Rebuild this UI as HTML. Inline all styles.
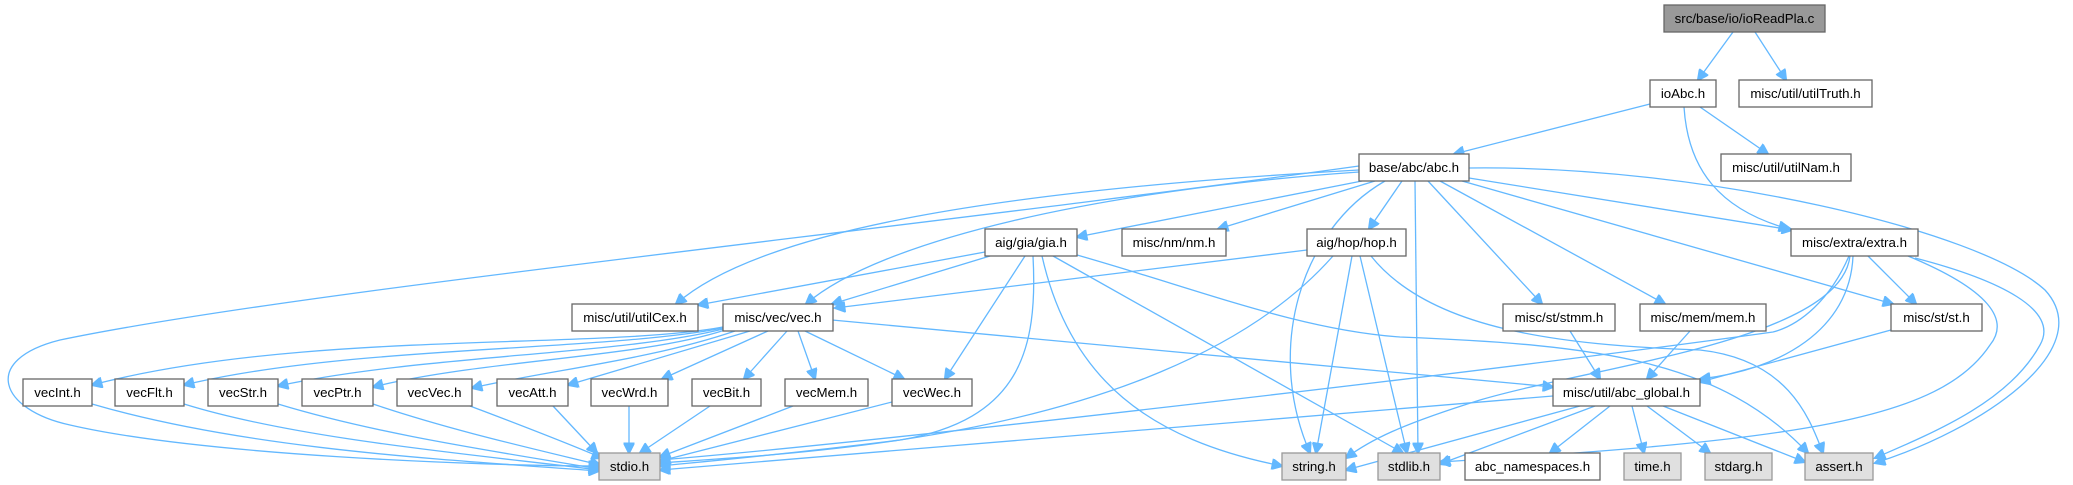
<!DOCTYPE html>
<html><head><meta charset="utf-8"><style>
html,body{margin:0;padding:0;background:#fff;}
svg{display:block;}
text{font-family:"Liberation Sans",Arial,sans-serif;font-size:13.3px;fill:#000;text-anchor:middle;}
.n{fill:#fff;stroke:#666;stroke-width:1.3;}
.g{fill:#e0e0e0;stroke:#999;stroke-width:1.3;}
.s{fill:#999;stroke:#666;stroke-width:1.3;}
path{fill:none;stroke:#63b8ff;stroke-width:1.3;marker-end:url(#a);}
</style></head><body>
<svg width="2073" height="485" viewBox="0 0 2073 485" xmlns="http://www.w3.org/2000/svg">
<defs><marker id="a" viewBox="0 0 10 10" refX="9" refY="5" markerWidth="13" markerHeight="11" markerUnits="userSpaceOnUse" orient="auto"><path d="M0,0 L10,5 L0,10 z" style="fill:#63b8ff;stroke:#63b8ff;stroke-width:1;marker-end:none"/></marker></defs>

<path d="M1733,32 L1698,80"/>
<path d="M1755,32 L1786,80"/>
<path d="M1650,104 L1454,154"/>
<path d="M1700,107 L1768,154"/>
<path d="M1684,107 C1688,170 1720,210 1789,229"/>
<path d="M1469,178 L1792,230"/>
<path d="M1462,181 L1893,304"/>
<path d="M1469,168 C1700,165 1980,230 2045,290 C2100,350 1980,430 1875,463"/>
<path d="M1428,181 L1542,304"/>
<path d="M1440,181 L1665,304"/>
<path d="M1415,181 L1418,453"/>
<path d="M1385,181 C1300,230 1265,350 1310,453"/>
<path d="M1402,181 L1369,229"/>
<path d="M1375,181 L1218,229"/>
<path d="M1362,181 L1077,237"/>
<path d="M1359,172 C1100,190 880,240 806,304"/>
<path d="M1359,170 C1000,190 760,230 676,304"/>
<path d="M1359,166 C900,230 300,290 60,340 C-20,360 0,410 70,425 C200,455 480,466 599,466"/>

<path d="M985,252 L698,305"/>
<path d="M990,256 L832,304"/>
<path d="M1025,256 L945,379"/>
<path d="M1033,256 C1038,350 1020,420 900,440 C800,455 700,460 660,463"/>
<path d="M1042,256 C1070,380 1150,440 1282,466"/>
<path d="M1053,256 L1403,453"/>
<path d="M1077,255 C1200,290 1300,330 1400,337 C1600,345 1720,360 1808,453"/>

<path d="M1307,250 L835,308"/>
<path d="M1333,256 C1250,350 1100,410 900,440 C780,455 700,462 660,466"/>
<path d="M1352,256 L1316,453"/>
<path d="M1360,256 L1407,453"/>
<path d="M1371,256 C1430,330 1560,345 1700,350 C1790,360 1810,420 1823,453"/>

<path d="M1868,256 L1916,304"/>
<path d="M1915,258 C2000,280 2060,310 2040,345 C2010,400 1940,430 1875,458"/>
<path d="M1908,256 C1990,290 2010,320 1990,345 C1940,420 1800,440 1440,462"/>
<path d="M1849,256 C1830,300 1800,325 1773,332 C1500,370 900,440 660,460"/>
<path d="M1853,256 C1850,330 1780,370 1700,379"/>
<path d="M1850,256 C1840,340 1600,365 1480,400 C1400,425 1370,440 1346,458"/>

<path d="M1891,330 L1700,382"/>
<path d="M1570,331 L1600,379"/>
<path d="M1690,331 L1647,379"/>
<path d="M832,320 L1553,387"/>

<path d="M1553,396 L660,470"/>
<path d="M1580,406 L1346,470"/>
<path d="M1595,406 L1440,464"/>
<path d="M1610,406 L1550,453"/>
<path d="M1632,406 L1644,453"/>
<path d="M1647,406 L1710,453"/>
<path d="M1663,406 L1805,462"/>

<path d="M723,327 C600,350 300,330 92,385"/>
<path d="M723,328 C600,352 350,345 184,385"/>
<path d="M723,329 C620,355 420,355 278,386"/>
<path d="M725,330 C640,358 480,360 373,387"/>
<path d="M735,331 C650,360 550,370 472,388"/>
<path d="M750,331 L568,385"/>
<path d="M768,331 L662,379"/>
<path d="M787,331 L744,379"/>
<path d="M798,331 L815,379"/>
<path d="M805,331 L904,379"/>

<path d="M92,404 C250,450 450,460 599,471"/>
<path d="M184,404 C300,440 480,455 599,470"/>
<path d="M278,404 C380,435 500,452 599,469"/>
<path d="M373,404 C450,430 530,448 600,465"/>
<path d="M470,406 C520,425 560,440 602,458"/>
<path d="M553,406 L597,453"/>
<path d="M629,406 L629,453"/>
<path d="M710,406 L640,453"/>
<path d="M793,406 L660,457"/>
<path d="M892,402 L660,461"/>

<rect class="s" x="1664" y="5" width="161" height="27"/><text x="1744.5" y="23">src/base/io/ioReadPla.c</text>
<rect class="n" x="1650" y="80" width="66" height="27"/><text x="1683" y="98">ioAbc.h</text>
<rect class="n" x="1739" y="80" width="133" height="27"/><text x="1805.5" y="98">misc/util/utilTruth.h</text>
<rect class="n" x="1359" y="154" width="110" height="27"/><text x="1414" y="172">base/abc/abc.h</text>
<rect class="n" x="1721" y="154" width="130" height="27"/><text x="1786" y="172">misc/util/utilNam.h</text>
<rect class="n" x="985" y="229" width="92" height="27"/><text x="1031" y="247">aig/gia/gia.h</text>
<rect class="n" x="1122" y="229" width="104" height="27"/><text x="1174" y="247">misc/nm/nm.h</text>
<rect class="n" x="1307" y="229" width="99" height="27"/><text x="1356.5" y="247">aig/hop/hop.h</text>
<rect class="n" x="1791" y="229" width="127" height="27"/><text x="1854.5" y="247">misc/extra/extra.h</text>
<rect class="n" x="572" y="304" width="126" height="27"/><text x="635" y="322">misc/util/utilCex.h</text>
<rect class="n" x="723" y="304" width="110" height="27"/><text x="778" y="322">misc/vec/vec.h</text>
<rect class="n" x="1503" y="304" width="112" height="27"/><text x="1559" y="322">misc/st/stmm.h</text>
<rect class="n" x="1640" y="304" width="126" height="27"/><text x="1703" y="322">misc/mem/mem.h</text>
<rect class="n" x="1891" y="304" width="91" height="27"/><text x="1936.5" y="322">misc/st/st.h</text>
<rect class="n" x="23" y="379" width="69" height="27"/><text x="57.5" y="397">vecInt.h</text>
<rect class="n" x="115" y="379" width="69" height="27"/><text x="149.5" y="397">vecFlt.h</text>
<rect class="n" x="208" y="379" width="70" height="27"/><text x="243" y="397">vecStr.h</text>
<rect class="n" x="302" y="379" width="71" height="27"/><text x="337.5" y="397">vecPtr.h</text>
<rect class="n" x="397" y="379" width="75" height="27"/><text x="434.5" y="397">vecVec.h</text>
<rect class="n" x="497" y="379" width="71" height="27"/><text x="532.5" y="397">vecAtt.h</text>
<rect class="n" x="591" y="379" width="77" height="27"/><text x="629.5" y="397">vecWrd.h</text>
<rect class="n" x="692" y="379" width="69" height="27"/><text x="726.5" y="397">vecBit.h</text>
<rect class="n" x="785" y="379" width="83" height="27"/><text x="826.5" y="397">vecMem.h</text>
<rect class="n" x="892" y="379" width="80" height="27"/><text x="932" y="397">vecWec.h</text>
<rect class="n" x="1553" y="379" width="147" height="27"/><text x="1626.5" y="397">misc/util/abc_global.h</text>
<rect class="g" x="599" y="453" width="61" height="27"/><text x="629.5" y="471">stdio.h</text>
<rect class="g" x="1282" y="453" width="64" height="27"/><text x="1314" y="471">string.h</text>
<rect class="g" x="1378" y="453" width="62" height="27"/><text x="1409" y="471">stdlib.h</text>
<rect class="n" x="1465" y="453" width="135" height="27"/><text x="1532.5" y="471">abc_namespaces.h</text>
<rect class="g" x="1624" y="453" width="57" height="27"/><text x="1652.5" y="471">time.h</text>
<rect class="g" x="1705" y="453" width="67" height="27"/><text x="1738.5" y="471">stdarg.h</text>
<rect class="g" x="1805" y="453" width="68" height="27"/><text x="1839" y="471">assert.h</text>
</svg>
</body></html>
